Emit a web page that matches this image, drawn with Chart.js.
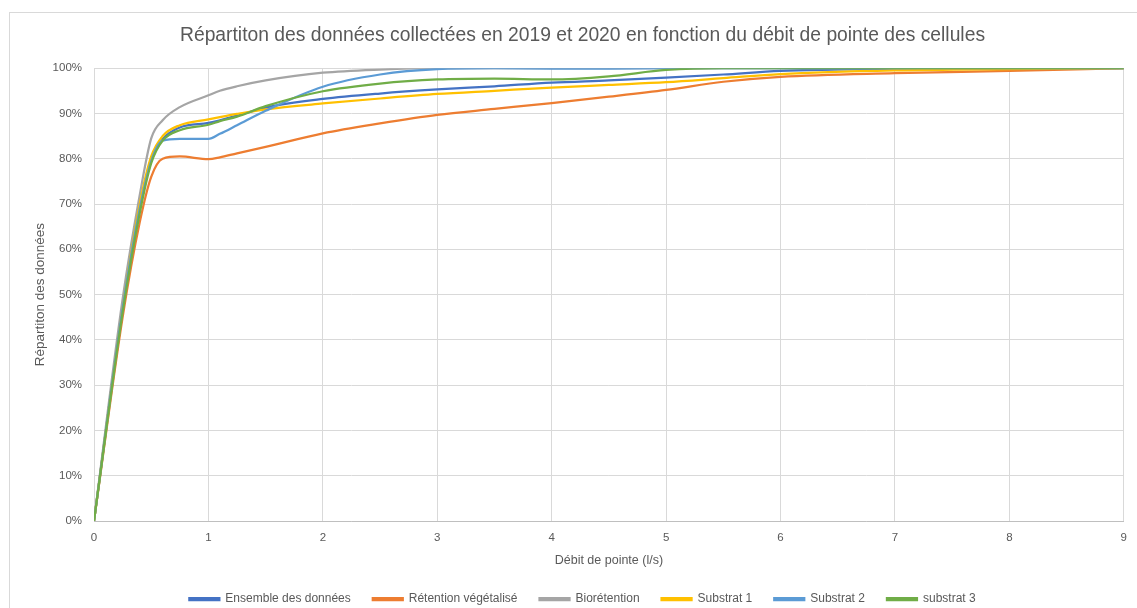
<!DOCTYPE html>
<html>
<head>
<meta charset="utf-8">
<script src="https://cdn.jsdelivr.net/npm/chart.js@4.4.1/dist/chart.umd.min.js"></script>
<style>
  html, body { margin: 0; padding: 0; background: #fff; }
  #frame { position: absolute; left: 9px; top: 12px; width: 1200px; height: 700px; border: 1px solid #d9d9d9; }
  #wrap { position: absolute; left: 0; top: 0; width: 1137px; height: 608px; }
</style>
</head>
<body>
<div id="frame"></div>
<div id="wrap"><canvas id="lineGraph" width="1137" height="608"></canvas></div>
<script>
// DEBIT DE POINTE (l/s)
const debit = [0, 0.25, 0.4, 0.5, 0.6, 0.75, 1, 1.1, 1.25, 1.5, 2, 2.5, 3, 3.5, 4, 4.5, 5, 5.5, 6, 7, 8, 9];

// REPARTITION CUMULEE (%) PAR SERIE
const ensemble     = [0, 47, 69, 79.5, 84.3, 86.9, 87.9, 88.5, 89.5, 91.3, 93.2, 94.4, 95.3, 96.0, 96.8, 97.3, 97.9, 98.6, 99.4, 99.9, 100, 100];
const retention    = [0, 45, 66, 76, 80.0, 80.5, 79.9, 80.3, 81.2, 82.6, 85.6, 87.8, 89.7, 91.0, 92.3, 93.7, 95.2, 97.0, 98.1, 98.9, 99.4, 100];
const bioretention = [0, 49, 72, 84.5, 88.5, 91.4, 94.0, 95.0, 96.0, 97.3, 99.0, 99.7, 100, 100, 100, 100, 100, 100, 100, 100, 100, 100];
const substrat1    = [0, 47, 70, 80.5, 85, 87.4, 88.7, 89.2, 89.9, 90.9, 92.2, 93.3, 94.3, 95.0, 95.7, 96.3, 96.9, 97.8, 98.7, 99.5, 99.8, 100];
const substrat2    = [0, 47, 69, 79.5, 84.0, 84.4, 84.4, 85.5, 87.4, 90.6, 95.9, 98.6, 99.8, 100, 99.9, 99.9, 100, 100, 100, 100, 100, 100];
const substrat3    = [0, 46, 68, 79, 84, 86.3, 87.5, 88.3, 89.3, 91.6, 94.9, 96.6, 97.5, 97.7, 97.5, 98.2, 99.6, 100, 100, 100, 100, 100];

const seriesNames = ['Ensemble des données', 'Rétention végétalisé', 'Biorétention', 'Substrat 1', 'Substrat 2', 'substrat 3'];
const seriesValues = [ensemble, retention, bioretention, substrat1, substrat2, substrat3];
const seriesColors = ['#4472C4', '#ED7D31', '#A5A5A5', '#FFC000', '#5B9BD5', '#70AD47'];

const xTicks = [0, 1, 2, 3, 4, 5, 6, 7, 8, 9];
const yTicks = [0, 10, 20, 30, 40, 50, 60, 70, 80, 90, 100];

const FONT = 'Liberation Sans';
const GREY = '#595959';

const datasets = seriesValues.map((vals, i) => ({
    label: seriesNames[i],
    data: vals.map((v, k) => ({ x: debit[k], y: v })),
    borderColor: seriesColors[i],
    backgroundColor: seriesColors[i],
    borderWidth: 2.25,
    pointRadius: 0,
    cubicInterpolationMode: 'monotone',
    fill: false,
    order: seriesValues.length - i   // dernière série dessinée au-dessus
}));

new Chart(document.getElementById('lineGraph'), {
    type: 'line',
    data: { datasets: datasets },
    options: {
        responsive: false,
        animation: false,
        layout: { padding: { left: 30, right: 2, top: 0, bottom: -7 } },
        plugins: {
            title: {
                display: true,
                text: 'Répartiton des données collectées en 2019 et 2020 en fonction du débit de pointe des cellules',
                color: GREY,
                font: { family: FONT, size: 19.3, weight: 'normal' },
                padding: { top: 24, bottom: 21 }
            },
            legend: {
                position: 'bottom',
                labels: {
                    color: GREY,
                    font: { family: FONT, size: 12 },
                    boxWidth: 30,
                    boxHeight: 2,
                    padding: 22,
                    sort: (a, b) => a.datasetIndex - b.datasetIndex
                }
            },
            tooltip: { enabled: false }
        },
        scales: {
            x: {
                type: 'linear',
                min: 0,
                max: 9,
                afterBuildTicks: (axis) => { axis.ticks = xTicks.map(v => ({ value: v })); },
                ticks: { color: GREY, font: { family: FONT, size: 11.5 }, padding: 10 },
                grid: { color: '#d9d9d9', drawTicks: false },
                border: { color: '#bfbfbf' },
                title: {
                    display: true,
                    text: 'Débit de pointe (l/s)',
                    color: GREY,
                    font: { family: FONT, size: 12.5 },
                    padding: { top: 0, bottom: 3 }
                },
                afterFit: (axis) => { axis.height = 50; }
            },
            y: {
                min: 0,
                max: 100,
                afterBuildTicks: (axis) => { axis.ticks = yTicks.map(v => ({ value: v })); },
                ticks: {
                    color: GREY,
                    font: { family: FONT, size: 11.5 },
                    padding: 12,
                    callback: (v) => v + '%'
                },
                grid: { color: '#d9d9d9', drawTicks: false },
                border: { display: false },
                title: {
                    display: true,
                    text: 'Répartiton des données',
                    color: GREY,
                    font: { family: FONT, size: 13.5 },
                    padding: { top: 2, bottom: 0 }
                },
                afterFit: (axis) => { axis.width = 64; }
            },
            // axe vide à droite : réserve la marge après x = 9
            yRight: {
                display: true,
                position: 'right',
                min: 0,
                max: 100,
                ticks: { display: false },
                grid: { display: false, drawTicks: false },
                border: { display: false },
                afterFit: (axis) => { axis.width = 5; }
            }
        }
    }
});
</script>
</body>
</html>
